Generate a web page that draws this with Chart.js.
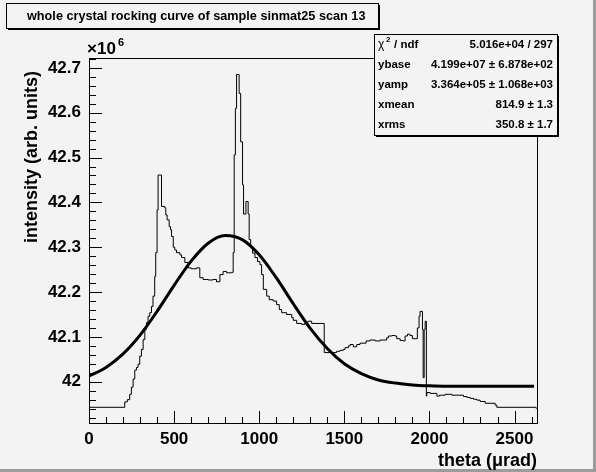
<!DOCTYPE html>
<html>
<head>
<meta charset="utf-8">
<script src="https://cdn.jsdelivr.net/npm/chart.js@4.4.1/dist/chart.umd.min.js"></script>
<style>
  html, body { margin: 0; padding: 0; background: #f3f3f3; }
  #wrap { width: 596px; height: 472px; }
</style>
</head>
<body>
<div id="wrap"><canvas id="chart" width="596" height="472"></canvas></div>
<script>
// histogram: theta where each bin level starts (urad) and its intensity (x10^6)
const histTheta = [
  0, 210, 225, 239, 249, 259, 269, 279, 288, 298, 308, 318, 328, 338, 347, 357,
  367, 376, 386, 392, 400, 406, 426, 445, 451, 459, 471, 479, 485, 495, 504, 514,
  534, 544, 563, 582, 600, 632, 651, 671, 700, 729, 749, 769, 788, 808, 838, 847,
  853, 860, 867, 882, 891, 902, 908, 922, 935, 941, 950, 961, 975, 990, 1004, 1014,
  1024, 1044, 1059, 1082, 1102, 1118, 1132, 1161, 1191, 1200, 1220, 1249, 1269, 1288, 1308, 1382,
  1455, 1475, 1494, 1504, 1524, 1534, 1553, 1573, 1592, 1628, 1651, 1681, 1710, 1749, 1759, 1779,
  1798, 1808, 1828, 1847, 1857, 1871, 1886, 1900, 1929, 1939, 1945, 1959, 1963, 1969, 1975, 1982,
  1985, 2004, 2044, 2059, 2092, 2132, 2200, 2220, 2239, 2259, 2279, 2298, 2328, 2386, 2396, 2626, 2632
];
const histIntensity = [
  41.943, 41.955, 41.960, 41.972, 41.988, 42.006, 42.026, 42.032, 42.039, 42.057, 42.072, 42.094, 42.117, 42.132, 42.146, 42.154,
  42.168, 42.191, 42.235, 42.288, 42.383, 42.461, 42.391, 42.388, 42.372, 42.361, 42.346, 42.339, 42.324, 42.300, 42.294, 42.288,
  42.283, 42.277, 42.266, 42.254, 42.252, 42.254, 42.232, 42.228, 42.227, 42.228, 42.223, 42.239, 42.246, 42.243, 42.244, 42.288,
  42.506, 42.610, 42.685, 42.643, 42.535, 42.439, 42.374, 42.402, 42.374, 42.317, 42.300, 42.287, 42.277, 42.268, 42.261, 42.239,
  42.206, 42.191, 42.183, 42.180, 42.172, 42.161, 42.154, 42.150, 42.143, 42.137, 42.130, 42.128, 42.133, 42.135, 42.130, 42.065,
  42.068, 42.070, 42.072, 42.076, 42.080, 42.083, 42.078, 42.083, 42.086, 42.091, 42.093, 42.091, 42.093, 42.098, 42.102, 42.103,
  42.102, 42.096, 42.092, 42.091, 42.102, 42.106, 42.103, 42.096, 42.120, 42.146, 42.157, 42.117, 42.009, 42.117, 42.135, 41.968,
  41.976, 41.974, 41.968, 41.970, 41.972, 41.970, 41.967, 41.965, 41.963, 41.961, 41.959, 41.956, 41.952, 41.948, 41.943, 41.941, 41.941
];

// gaussian fit curve
const fitTheta = [0, 100, 200, 300, 400, 500, 600, 700, 800, 900, 1000, 1100, 1200,
  1300, 1400, 1500, 1600, 1700, 1800, 1900, 2000, 2100, 2200, 2300, 2400, 2500, 2615];
const fitIntensity = [42.013, 42.032, 42.062, 42.104, 42.157, 42.215, 42.269, 42.309, 42.326, 42.317, 42.283, 42.232, 42.174,
  42.119, 42.074, 42.040, 42.018, 42.004, 41.997, 41.993, 41.991, 41.990, 41.990, 41.990, 41.990, 41.990, 41.990];

const xTicks = [0, 500, 1000, 1500, 2000, 2500];
const yTicks = [42.0, 42.1, 42.2, 42.3, 42.4, 42.5, 42.6, 42.7];

const statsLabels = ['ybase', 'yamp', 'xmean', 'xrms'];
const statsValues = ['5.016e+04 / 297', '4.199e+07 ± 6.878e+02', '3.364e+05 ± 1.068e+03', '814.9 ± 1.3', '350.8 ± 1.7'];

const TITLE = 'whole crystal rocking curve of sample sinmat25 scan 13';
const BG = '#f3f3f3';
const FONT = '"Liberation Sans", Arial, sans-serif';

function drawBox(ctx, x, y, w, h) {
  ctx.fillStyle = '#000';
  ctx.fillRect(x + 2, y + 2, w, h);
  ctx.fillStyle = BG;
  ctx.fillRect(x, y, w, h);
  ctx.strokeStyle = '#000';
  ctx.lineWidth = 1;
  ctx.strokeRect(x + 0.5, y + 0.5, w, h);
  ctx.fillStyle = '#000';
}

// ROOT-like frame, inward ticks, title and stats boxes
const framePlugin = {
  id: 'rootFrame',
  beforeDraw(chart) {
    const ctx = chart.ctx;
    ctx.save();
    ctx.fillStyle = BG;
    ctx.fillRect(0, 0, chart.width, chart.height);
    ctx.fillStyle = '#9c9c9c';
    ctx.fillRect(chart.width - 3, 0, 3, chart.height);
    ctx.fillRect(0, chart.height - 3, chart.width, 3);
    ctx.restore();
  },
  afterDatasetsDraw(chart) {
    const { ctx, chartArea: a, scales } = chart;
    const xs = scales.x, ys = scales.y;
    ctx.save();
    ctx.strokeStyle = '#000';
    ctx.lineWidth = 1;
    ctx.strokeRect(Math.round(a.left) + 0.5, Math.round(a.top) + 0.5,
      Math.round(a.right - a.left), Math.round(a.bottom - a.top));
    ctx.beginPath();
    for (let i = 0; i <= 26; i++) {
      const v = i * 100;
      const px = Math.round(xs.getPixelForValue(v)) + 0.5;
      const len = (v % 500 === 0) ? 12 : 6;
      ctx.moveTo(px, a.bottom);
      ctx.lineTo(px, a.bottom - len);
    }
    for (let i = 0; i <= 40; i++) {
      const v = 41.92 + i * 0.02;
      if (v > ys.max) break;
      const py = Math.round(ys.getPixelForValue(v)) + 0.5;
      const len = (i % 5 === 4) ? 13 : 7;
      ctx.moveTo(a.left, py);
      ctx.lineTo(a.left + len, py);
    }
    ctx.stroke();
    ctx.restore();
  },
  afterDraw(chart) {
    const ctx = chart.ctx;
    const a = chart.chartArea;
    ctx.save();

    // title box
    drawBox(ctx, 6, 3, 372, 25);
    ctx.font = 'bold 12.7px ' + FONT;
    ctx.textBaseline = 'middle';
    ctx.textAlign = 'left';
    ctx.fillText(TITLE, 27, 16);

    // stats box
    drawBox(ctx, 374, 34, 183, 101);
    ctx.textAlign = 'left';
    ctx.font = '12px ' + FONT;
    ctx.fillText('χ', 378, 45);
    ctx.font = 'bold 8px ' + FONT;
    ctx.fillText('2', 386, 40);
    ctx.font = 'bold 11.5px ' + FONT;
    ctx.fillText('/ ndf', 394, 45);
    statsLabels.forEach((label, i) => {
      ctx.fillText(label, 378, 65 + i * 20);
    });
    ctx.textAlign = 'right';
    statsValues.forEach((val, i) => {
      ctx.fillText(val, 553, 45 + i * 20);
    });

    // exponent
    ctx.textAlign = 'left';
    ctx.textBaseline = 'alphabetic';
    ctx.font = 'bold 17px ' + FONT;
    ctx.fillText('×10', 87, 54);
    ctx.font = 'bold 11px ' + FONT;
    ctx.fillText('6', 118, 46);

    // axis titles
    ctx.font = 'bold 18px ' + FONT;
    ctx.textAlign = 'right';
    ctx.fillText('theta (μrad)', a.right, 466);
    ctx.translate(37, a.top + 13);
    ctx.rotate(-Math.PI / 2);
    ctx.textAlign = 'right';
    ctx.fillText('intensity (arb. units)', 0, 0);
    ctx.restore();
  }
};

new Chart(document.getElementById('chart'), {
  type: 'scatter',
  data: {
    datasets: [
      {
        label: 'data',
        data: histTheta.map((t, i) => ({ x: t, y: histIntensity[i] })),
        showLine: true,
        stepped: 'before',
        borderColor: '#000',
        borderWidth: 1,
        pointRadius: 0
      },
      {
        label: 'fit',
        data: fitTheta.map((t, i) => ({ x: t, y: fitIntensity[i] })),
        showLine: true,
        cubicInterpolationMode: 'monotone',
        borderColor: '#000',
        borderWidth: 3,
        pointRadius: 0
      }
    ]
  },
  options: {
    responsive: false,
    devicePixelRatio: 1,
    animation: false,
    layout: { padding: { left: 0, right: 59, top: 58, bottom: 0 } },
    plugins: {
      legend: { display: false },
      tooltip: { enabled: false }
    },
    scales: {
      x: {
        type: 'linear',
        min: 0,
        max: 2632,
        afterFit(s) { s.height = 49; },
        afterBuildTicks(s) { s.ticks = xTicks.map(v => ({ value: v })); },
        grid: { display: false, drawTicks: false },
        border: { display: false },
        ticks: {
          color: '#000',
          padding: 6,
          maxRotation: 0,
          font: { family: FONT, size: 17, weight: 'bold' },
          callback: v => String(v)
        }
      },
      y: {
        type: 'linear',
        min: 41.908,
        max: 42.722,
        afterFit(s) { s.width = 89; },
        afterBuildTicks(s) { s.ticks = yTicks.map(v => ({ value: v })); },
        grid: { display: false, drawTicks: false },
        border: { display: false },
        ticks: {
          color: '#000',
          padding: 8,
          font: { family: FONT, size: 17, weight: 'bold' },
          callback: v => String(+v.toFixed(1))
        }
      }
    }
  },
  plugins: [framePlugin]
});
</script>
</body>
</html>
